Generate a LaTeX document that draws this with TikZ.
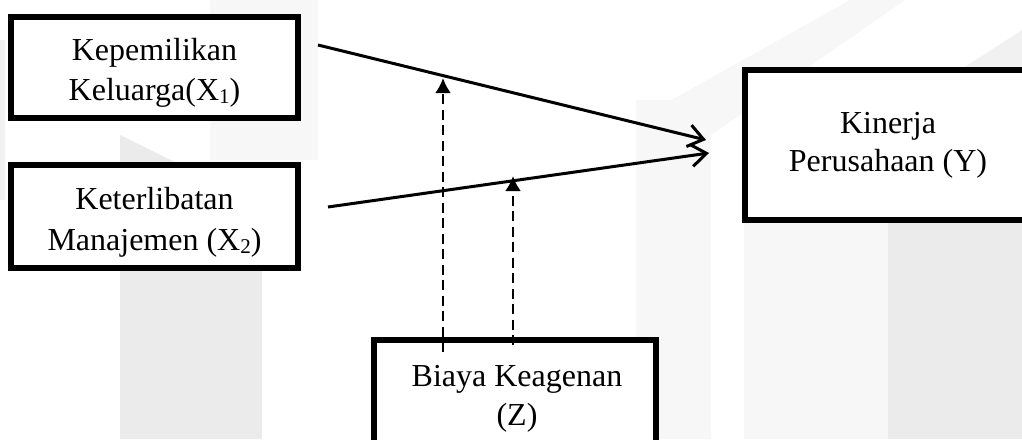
\documentclass[tikz,border=0pt]{standalone}
\usepackage{fontspec}
\setmainfont{Liberation Serif}
\usetikzlibrary{arrows.meta}
\definecolor{wmA}{HTML}{F7F7F7}
\definecolor{wmB}{HTML}{EBEBEB}
\definecolor{wmC}{HTML}{F1F1F1}
\newcommand{\subidx}[1]{\raisebox{-0.1em}{\fontsize{21}{21}\selectfont #1}}
\tikzset{
  box/.style={draw=black, line width=5.5pt, fill=white, inner sep=0pt},
  lbl/.style={anchor=base, inner sep=0pt, font=\fontsize{32}{38}\selectfont},
  mainarrow/.style={line width=3pt, -{Straight Barb[length=15pt,width=22pt]}},
  modarrow/.style={line width=2.6pt, dash pattern=on 10pt off 5.5pt, -{Latex[length=15pt,width=16pt]}},
}
\begin{document}
\begin{tikzpicture}[x=1pt,y=-1pt]
\useasboundingbox (0,0) rectangle (1022,439);
\clip (0,0) rectangle (1022,439);
% faint watermark shapes
\fill[wmA] (210,0) rectangle (318,160);
\fill[wmB] (120,135) -- (262,205) -- (262,439) -- (120,439) -- cycle;
\fill[wmC] (0,40) rectangle (5,200);
\fill[wmA] (636,100) rectangle (711,439);
\fill[wmA] (650,112) -- (850,0) -- (905,0) -- (711,135) -- cycle;
\fill[wmA] (744,222) rectangle (888,439);
\fill[wmB] (888,222) rectangle (1022,439);
\fill[wmC] (960,70) -- (1022,30) -- (1022,68) -- cycle;
% boxes
\node[box, minimum width=287pt, minimum height=101pt] (x1) at (154.5,67.5) {};
\node[box, minimum width=287pt, minimum height=103pt] (x2) at (154.5,216.5) {};
\node[box, minimum width=295pt, minimum height=150pt] (y) at (892.5,145) {};
\node[box, minimum width=282pt, minimum height=130pt] (z) at (515,405) {};
% texts
\node[lbl] (x1a) at (154.5,60) {Kepemilikan};
\node[lbl] (x1b) at (154.5,100) {Keluarga(X\subidx{1})};
\node[lbl] (x2a) at (154.5,209) {Keterlibatan};
\node[lbl] (x2b) at (154.5,250) {Manajemen (X\subidx{2})};
\node[lbl] (ya) at (888,133) {Kinerja};
\node[lbl] (yb) at (888,171) {Perusahaan (Y)};
\node[lbl] (za) at (517,386) {Biaya Keagenan};
\node[lbl] (zb) at (517,425) {(Z)};
% connector ends
\coordinate (s1) at (318,45);
\coordinate (t1) at (706,140);
\coordinate (s2) at (328,207);
\coordinate (t2) at (709,153);
\coordinate (d1s) at (443,352);
\coordinate (d1t) at (443,78);
\coordinate (d2s) at (513,345);
\coordinate (d2t) at (513,176);
% connectors
\draw[mainarrow] (s1) -- (t1);
\draw[mainarrow] (s2) -- (t2);
\draw[modarrow] (d1s) -- (d1t);
\draw[modarrow] (d2s) -- (d2t);
\end{tikzpicture}
\end{document}
